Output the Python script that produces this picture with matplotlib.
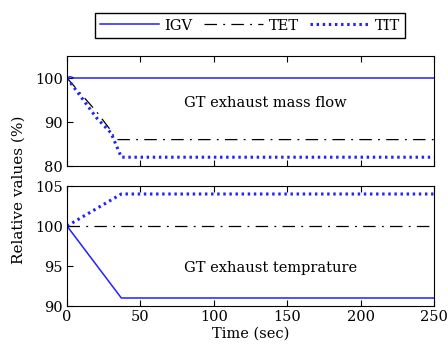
import matplotlib
matplotlib.use("Agg")
import matplotlib.pyplot as plt

# Top panel: GT exhaust mass flow
t_mf = [0, 2, 5, 10, 20, 30, 33, 36, 37, 250]
igv_mf = [100, 100.3, 100, 100, 100, 100, 100, 100, 100, 100]
tet_mf_t = [0, 10, 20, 30, 33, 250]
tet_mf = [100, 96.2, 92.4, 88.0, 86, 86]
tit_mf_t = [0, 10, 20, 30, 37, 250]
tit_mf = [100, 95.5, 91.0, 87.5, 82, 82]

# Bottom panel: GT exhaust temperature
t_tp = [0, 37, 250]
igv_tp = [100, 91, 91]
tet_tp = [100, 100, 100]
tit_tp = [100, 104, 104]

BLUE = "#2222ff"
plt.rcParams.update({
    "font.family": "DejaVu Serif",
    "font.size": 10.5,
})

fig = plt.figure(figsize=(4.48, 3.56), dpi=100)
W, H = 448, 356
ax1 = fig.add_axes([67 / W, 1 - 166 / H, 367 / W, 110 / H])
ax2 = fig.add_axes([67 / W, 1 - 306 / H, 367 / W, 120 / H])

DASHDOT = (0, (10, 5, 1.5, 5))
DOTTED = (0, (0.8, 1.2))

l1, = ax1.plot(t_mf, igv_mf, color=BLUE, lw=1.1, label="IGV")
l2, = ax1.plot(tet_mf_t, tet_mf, color="black", lw=0.9, ls=DASHDOT, label="TET")
l3, = ax1.plot(tit_mf_t, tit_mf, color=BLUE, lw=2.2, ls=DOTTED, label="TIT")
ax1.set_ylim(80, 105)
ax1.set_yticks([80, 90, 100])
ax1.text(135, 94.3, "GT exhaust mass flow", ha="center", va="center")

ax2.plot(t_tp, igv_tp, color=BLUE, lw=1.1)
ax2.plot(t_tp, tet_tp, color="black", lw=0.9, ls=DASHDOT)
ax2.plot(t_tp, tit_tp, color=BLUE, lw=2.2, ls=DOTTED)
ax2.set_ylim(90, 105)
ax2.set_yticks([90, 95, 100, 105])
ax2.text(139, 94.7, "GT exhaust temprature", ha="center", va="center")
ax2.set_xlabel("Time (sec)", labelpad=2)

for ax in (ax1, ax2):
    ax.set_xlim(0, 250)
    ax.set_xticks([0, 50, 100, 150, 200, 250])
    ax.tick_params(direction="in", length=4, top=True, right=False, pad=3)
ax1.set_xticklabels([])

fig.text(19 / W, 1 - 190 / H, "Relative values (%)", rotation=90,
         ha="center", va="center", fontsize=11)

fig.legend(handles=[l1, l2, l3], loc="center", ncol=3,
           bbox_to_anchor=(250 / W, 1 - 25.5 / H), fancybox=False,
           edgecolor="black", framealpha=1, handlelength=4.0,
           columnspacing=0.8, handletextpad=0.4, borderpad=0.35)

fig.savefig("out.png", dpi=100)
